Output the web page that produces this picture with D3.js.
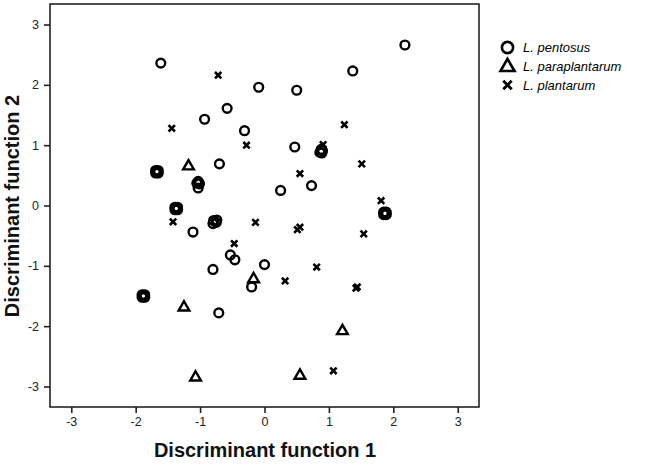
<!DOCTYPE html>
<html><head><meta charset="utf-8">
<script src="https://cdn.jsdelivr.net/npm/d3@7"></script>
<style>body{margin:0;background:#fff}svg{display:block}</style>
</head><body><svg id="c" width="646" height="464"></svg>
<script>
const xTicks = [-3,-2,-1,0,1,2,3];
const yTicks = [-3,-2,-1,0,1,2,3];
const seriesNames = ["L. pentosus","L. paraplantarum","L. plantarum"];
const pentosusX = [2.18,1.37,-1.61,-0.09,0.50,-0.58,-0.93,-0.31,0.47,
  0.86,0.90,0.88,0.89,
  -0.70,
  -1.69,-1.65,-1.69,-1.65,-1.67,
  -1.03,-1.05,-1.01,-1.03,
  0.25,0.73,
  -1.39,-1.35,-1.39,-1.35,-1.37,
  -0.80,-0.75,-0.79,-0.74,
  1.85,1.89,1.85,1.89,1.87,
  -1.11,-0.53,-0.46,-0.80,0.00,-0.20,-0.71,
  -1.90,-1.86,-1.90,-1.86,-1.88];
const pentosusY = [2.66,2.23,2.36,1.96,1.91,1.61,1.43,1.24,0.97,
  0.88,0.91,0.93,0.87,
  0.69,
  0.54,0.54,0.58,0.58,0.56,
  0.40,0.37,0.36,0.29,
  0.25,0.33,
  -0.07,-0.07,-0.03,-0.03,-0.05,
  -0.30,-0.28,-0.25,-0.24,
  -0.15,-0.15,-0.11,-0.11,-0.13,
  -0.44,-0.82,-0.90,-1.06,-0.98,-1.35,-1.78,
  -1.52,-1.52,-1.48,-1.48,-1.50];
const paraX = [-1.18,-0.17,-1.25,1.21,-1.07,0.55];
const paraY = [0.65,-1.22,-1.69,-2.08,-2.85,-2.82];
const plantX = [-0.72,-1.44,-0.28,1.24,0.91,0.55,1.51,1.81,-1.42,-0.14,0.51,0.55,-0.47,0.81,1.54,0.32,1.42,1.44,1.07];
const plantY = [2.16,1.28,1.00,1.34,1.01,0.53,0.69,0.08,-0.27,-0.28,-0.40,-0.36,-0.63,-1.02,-0.47,-1.25,-1.37,-1.35,-2.74];

const svg = d3.select("#c");
const L=50,R=479,T=4,B=407;
const x = d3.scaleLinear().domain([-3.33,3.33]).range([L,R]);
const y = d3.scaleLinear().domain([-3.34,3.34]).range([B,T]);

svg.append("rect").attr("x",L).attr("y",T).attr("width",R-L).attr("height",B-T)
  .attr("fill","none").attr("stroke","#222").attr("stroke-width",1.6);

const fmt = d => String(d);
const xa = svg.append("g").attr("transform",`translate(0,${B})`)
  .call(d3.axisBottom(x).tickValues(xTicks).tickSize(6).tickPadding(4).tickFormat(fmt));
const ya = svg.append("g").attr("transform",`translate(${L},0)`)
  .call(d3.axisLeft(y).tickValues(yTicks).tickSize(6).tickPadding(5).tickFormat(fmt));
[xa,ya].forEach(a=>{
  a.select(".domain").remove();
  a.selectAll(".tick line").attr("stroke","#222").attr("stroke-width",1.6);
  a.selectAll(".tick text").attr("font-family","Liberation Sans, Arial, sans-serif").attr("font-size",12.5).attr("fill","#222");
});

const g = svg.append("g");
const circ = (sel, cx, cy, r, sw) => sel.append("circle").attr("cx",cx).attr("cy",cy).attr("r",r)
  .attr("fill","none").attr("stroke","#000").attr("stroke-width",sw);
const triPath = d3.symbol().type(d3.symbolTriangle);
const tri = (sel, cx, cy, size, sw) => sel.append("path").attr("d",triPath.size(size)())
  .attr("transform",`translate(${cx},${cy})`).attr("fill","none").attr("stroke","#000")
  .attr("stroke-width",sw).attr("stroke-linejoin","miter");
const cross = (sel, cx, cy, h, sw) => sel.append("path")
  .attr("d",`M${-h},${-h}L${h},${h}M${-h},${h}L${h},${-h}`)
  .attr("transform",`translate(${cx},${cy})`).attr("fill","none").attr("stroke","#000").attr("stroke-width",sw);

pentosusX.forEach((v,i)=>circ(g, x(v), y(pentosusY[i]), 4.4, 2.4));
paraX.forEach((v,i)=>tri(g, x(v), y(paraY[i]), 50, 2.4));
plantX.forEach((v,i)=>cross(g, x(v), y(plantY[i]), 3.2, 2.6));

// legend
const lg = svg.append("g");
const ly = [47.5,66,85];
circ(lg, 507.5, ly[0], 5.6, 2.6);
tri(lg, 507.5, ly[1]+1, 85, 2.6);
cross(lg, 507.5, ly[2], 4.2, 2.8);
seriesNames.forEach((n,i)=>lg.append("text").attr("x",523).attr("y",ly[i]+4.5)
  .attr("font-family","Liberation Sans, Arial, sans-serif").attr("font-size",13)
  .attr("font-style","italic").attr("fill","#000").text(n));

svg.append("text").attr("x",265).attr("y",457).attr("text-anchor","middle")
  .attr("font-family","Liberation Sans, Arial, sans-serif").attr("font-weight","bold")
  .attr("font-size",20).attr("fill","#111").text("Discriminant function 1");
svg.append("text").attr("transform","translate(19,206) rotate(-90)").attr("text-anchor","middle")
  .attr("font-family","Liberation Sans, Arial, sans-serif").attr("font-weight","bold")
  .attr("font-size",20).attr("fill","#111").text("Discriminant function 2");
</script></body></html>
